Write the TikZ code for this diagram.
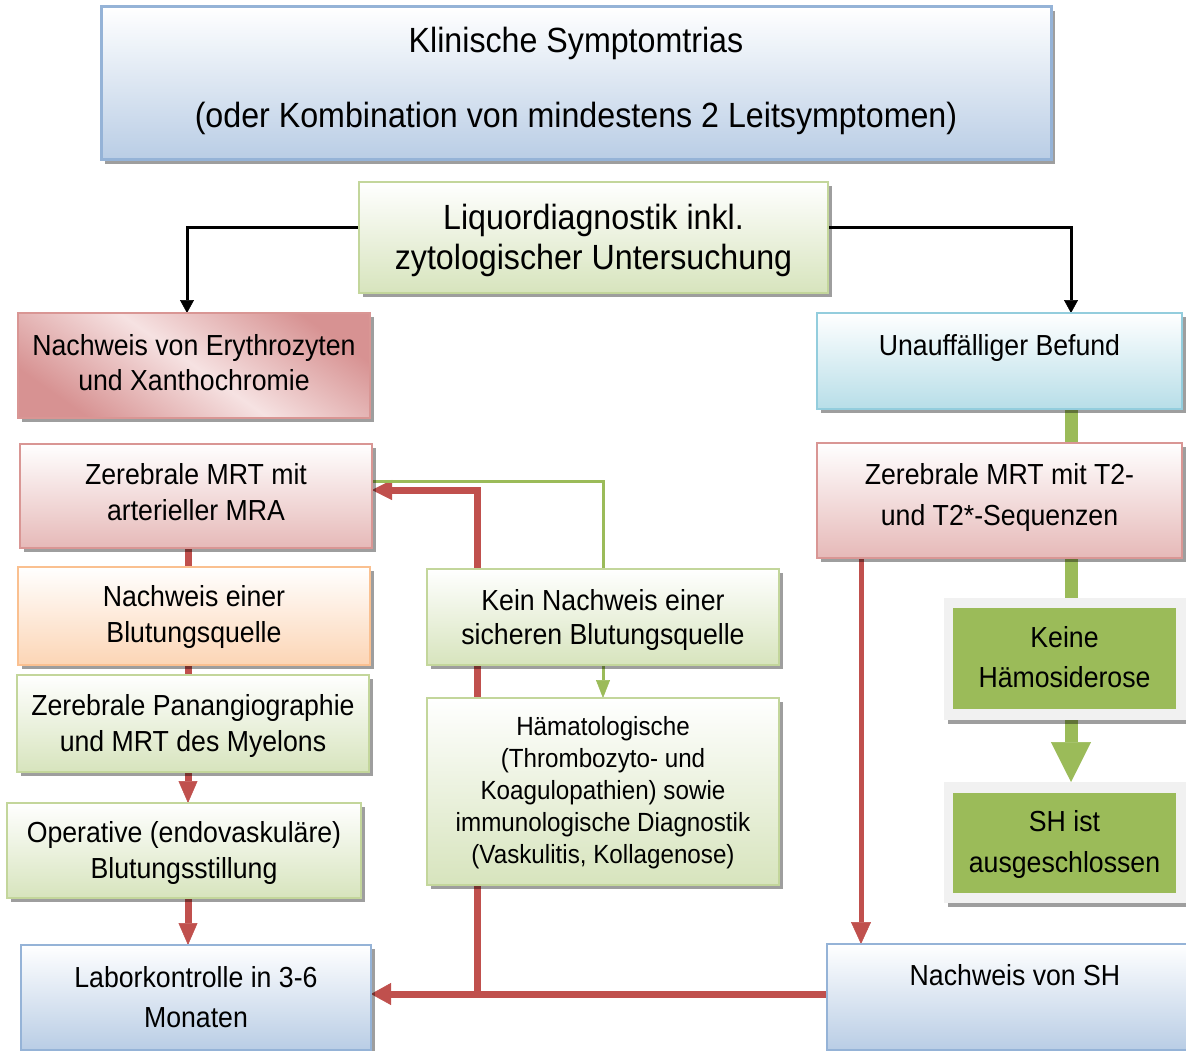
\documentclass[tikz,border=0pt]{standalone}
\usepackage{fontspec}
\setmainfont{Liberation Sans}[FakeStretch=0.92]
\usetikzlibrary{arrows.meta}
\definecolor{blueF}{RGB}{185,205,229}
\definecolor{blueB}{RGB}{149,179,215}
\definecolor{greenF}{RGB}{215,228,189}
\definecolor{greenB}{RGB}{195,214,155}
\definecolor{redF}{RGB}{230,185,184}
\definecolor{redB}{RGB}{217,150,148}
\definecolor{eryD}{RGB}{215,146,146}
\definecolor{eryL}{RGB}{246,226,226}
\definecolor{orangeF}{RGB}{252,213,181}
\definecolor{orangeB}{RGB}{250,192,144}
\definecolor{cyanF}{RGB}{183,222,232}
\definecolor{cyanB}{RGB}{147,205,221}
\definecolor{solidG}{RGB}{155,187,89}
\definecolor{frameC}{RGB}{241,241,241}
\definecolor{lineR}{RGB}{192,80,77}
\definecolor{lineG}{RGB}{155,187,89}
\pgfdeclarelayer{paper}
\pgfdeclarelayer{bg}
\pgfsetlayers{paper,bg,main}
\newcommand{\btx}[4]{\parbox[c][#2pt][t]{#1pt}{\vspace*{#3pt}\centering\strut #4}}
\begin{document}
\begin{tikzpicture}[x=1pt,y=-1pt,
  sbox/.style={line width=2.5pt, inner sep=0pt, outer sep=0pt, anchor=north west,
    preaction={fill=black, opacity=0.38, transform canvas={xshift=4pt,yshift=-4pt}}},
  bluebox/.style={sbox, draw=blueB, top color=white, bottom color=blueF},
  greenbox/.style={sbox, draw=greenB, top color=white, bottom color=greenF},
  redbox/.style={sbox, draw=redB, top color=white, bottom color=redF},
  erybox/.style={sbox, draw=redB, top color=eryD, bottom color=eryD, middle color=eryL, shading angle=-35},
  orangebox/.style={sbox, draw=orangeB, top color=white, bottom color=orangeF},
  cyanbox/.style={sbox, draw=cyanB, top color=white, bottom color=cyanF},
  framebox/.style={sbox, line width=0pt, fill=frameC},
  solidbox/.style={inner sep=0pt, outer sep=0pt, anchor=north west, fill=solidG},
  redthick/.style={draw=lineR, line width=7pt},
  redmed/.style={draw=lineR, line width=5pt},
  greenthick/.style={draw=lineG, line width=13pt},
  greenthin/.style={draw=lineG, line width=3pt},
  blackline/.style={draw=black, line width=3pt},
  f29/.style={font=\fontsize{29}{#1}\selectfont}
]
\begin{pgfonlayer}{paper}
\fill[white] (0,0) rectangle (1186,1051);
\end{pgfonlayer}
\useasboundingbox (0,0) rectangle (1186,1051);

% boxes
\node[bluebox, line width=3pt, font=\fontsize{35}{40}\selectfont] (top) at (101,7)
  {\btx{950}{153}{18}{Klinische Symptomtrias\\[35pt](oder Kombination von mindestens 2 Leitsymptomen)}};
\node[greenbox, font=\fontsize{35}{40}\selectfont] (liq) at (359,182)
  {\btx{469}{111}{19}{Liquordiagnostik inkl.\\zytologischer Untersuchung}};
\node[erybox, f29=35] (ery) at (18,313)
  {\btx{352}{105}{17.5}{Nachweis von Erythrozyten\\und Xanthochromie}};
\node[redbox, f29=36] (mra) at (20,444)
  {\btx{352}{104}{14.8}{Zerebrale MRT mit\\arterieller MRA}};
\node[orangebox, f29=36] (quelle) at (18,567)
  {\btx{352}{98}{13.8}{Nachweis einer\\Blutungsquelle}};
\node[greenbox, f29=36] (pan) at (17,675)
  {\btx{352}{97}{14.8}{Zerebrale Panangiographie\\und MRT des Myelons}};
\node[greenbox, f29=36] (op) at (7,803)
  {\btx{354}{95}{13.8}{Operative (endovaskuläre)\\Blutungsstillung}};
\node[bluebox, f29=40] (lab) at (21,945)
  {\btx{350}{105}{14}{Laborkontrolle in 3-6\\Monaten}};
\node[greenbox, f29=34] (kein) at (427,569)
  {\btx{352}{96}{17.2}{Kein Nachweis einer\\sicheren Blutungsquelle}};
\node[greenbox, font=\fontsize{26.3}{31.8}\selectfont] (hama) at (427,698)
  {\btx{352}{187}{15.6}{Hämatologische\\(Thrombozyto- und\\Koagulopathien) sowie\\immunologische Diagnostik\\(Vaskulitis, Kollagenose)}};
\node[cyanbox, f29=36] (unauf) at (817,313)
  {\btx{365}{96}{16.8}{Unauffälliger Befund}};
\node[redbox, f29=41] (t2) at (817,443)
  {\btx{365}{115}{12.3}{Zerebrale MRT mit T2-\\und T2*-Sequenzen}};
\node[framebox, minimum width=244pt, minimum height=122pt] (keineF) at (944,598) {};
\node[solidbox, f29=40] (keine) at (953,608)
  {\btx{223}{101}{11}{Keine\\Hämosiderose}};
\node[framebox, minimum width=244pt, minimum height=121pt] (shF) at (944,782) {};
\node[solidbox, f29=41] (sh) at (953,793)
  {\btx{223}{100}{9.3}{SH ist\\ausgeschlossen}};
\node[bluebox, f29=36] (shn) at (827,944)
  {\btx{376}{106}{15.8}{Nachweis von SH}};

% connectors
\begin{pgfonlayer}{bg}
\coordinate (rx) at (188,0);
\coordinate (rx2) at (861,0);
\coordinate (gx) at (1071,0);
\coordinate (jn) at (477,994);
\coordinate (ry1) at (0,490);
\coordinate (gy1) at (0,481);
\draw[blackline, -{Triangle[width=14pt,length=13pt,line width=0.5pt]}]
  ([yshift=9.5pt]liq.west) -| ([xshift=-7pt]ery.north);
\draw[blackline, -{Triangle[width=14pt,length=13pt,line width=0.5pt]}]
  ([yshift=9.5pt]liq.east) -| (unauf.north -| gx);
\draw[redthick] (mra.south -| rx) -- (quelle.north -| rx);
\draw[redthick] (quelle.south -| rx) -- (pan.north -| rx);
\draw[redthick, -{Triangle[width=19pt,length=22pt,line width=0.5pt]}] (pan.south -| rx) -- (op.north -| rx);
\draw[redthick, -{Triangle[width=19pt,length=22pt,line width=0.5pt]}] (op.south -| rx) -- (lab.north -| rx);
\draw[redthick, -{Triangle[width=22pt,length=20pt,line width=0.5pt]}] (shn.west |- jn) -- (lab.east |- jn);
\draw[redthick, -{Triangle[width=20pt,length=20pt,line width=0.5pt]}] (jn) |- (mra.east |- ry1);
\draw[greenthin] (kein.north) |- (mra.east |- gy1);
\draw[greenthin, -{Triangle[width=14pt,length=18pt,line width=0.5pt]}] (kein.south) -- (hama.north);
\draw[redmed, -{Triangle[width=20pt,length=22pt,line width=0.5pt]}] (t2.south -| rx2) -- (shn.north -| rx2);
\draw[greenthick] (unauf.south -| gx) -- (t2.north -| gx);
\draw[greenthick] (t2.south -| gx) -- (keineF.north -| gx);
\draw[greenthick, -{Triangle[width=40pt,length=40pt,line width=0.5pt]}] (keineF.south -| gx) -- (shF.north -| gx);
\end{pgfonlayer}
\end{tikzpicture}
\end{document}
